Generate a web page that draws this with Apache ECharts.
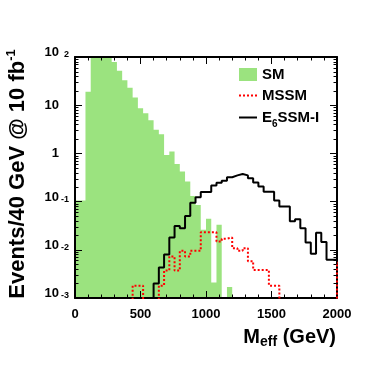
<!DOCTYPE html>
<html><head><meta charset="utf-8">
<script src="https://cdn.jsdelivr.net/npm/echarts@6/dist/echarts.min.js"></script>
<style>html,body{margin:0;padding:0;background:#fff}#c{width:374px;height:374px}</style>
</head><body><div id="c"></div>
<script>
// ---- data (Events / 40 GeV @ 10 fb^-1), bins given by lower edge (GeV) ----
const binWidth = 40;
const smEdges = [0,40,80,120,160,200,240,280,320,360,400,440,480,520,560,600,640,680,720,760,800,840,880,920,960,1000,1040,1080,1120,1160];
const smEvents = [0.105,0.105,19,130,170,160,120,79,52,33,23,14.5,8.6,6.8,4.9,3.1,2.5,0.93,1.09,0.6,0.42,0.26,0.13,0.085,0.026,0.044,0.0021,0.033,0,0.0017];

const mssmEdges = [400,440,480,520,560,600,640,680,720,760,800,840,880,920,960,1000,1040,1080,1120,1160,1200,1240,1280,1320,1360,1400,1440,1480,1520,1560,1600,1640,1680,1720,1760,1800,1840,1880,1920,1960,2000];
const mssmEvents = [0,0.0018,0.0018,0,0,0,0.0018,0.0037,0.0073,0.0037,0.0095,0.0073,0.0095,0.0095,0.023,0.023,0.023,0.0148,0.017,0.018,0.0108,0.0095,0.0108,0.0058,0.0038,0.0038,0.0038,0.0018,0.0018,0,0,0,0,0,0,0,0,0,0,0,0.0054];

const e6Edges = [560,600,640,680,720,760,800,840,880,920,960,1000,1040,1080,1120,1160,1200,1240,1280,1320,1360,1400,1440,1480,1520,1560,1600,1640,1680,1720,1760,1800,1840,1880,1920,1960];
const e6Events = [0,0.002,0.0043,0.008,0.018,0.031,0.028,0.05,0.095,0.123,0.158,0.158,0.215,0.245,0.27,0.32,0.35,0.375,0.35,0.305,0.25,0.205,0.16,0.16,0.105,0.079,0.079,0.039,0.043,0.028,0.0142,0.0083,0.0225,0.0145,0.0062,0.0062];

const seriesNames = ['SM','MSSM','E6SSM-I'];
const xTicks = [0,500,1000,1500,2000];
const yTickExps = [-3,-2,-1,0,1,2];
const yTickBase = ['10','10','10','1','10','10'];
const yTickSup  = ['-3','-2','-1','','','2'];

// ---- helpers ----
const FONT = 'Liberation Sans';
const GREEN = '#9be37f';
const FLOOR = 1e-6; // empty bins are drawn below the axis range
function stepData(edges, vals) {
  const d = edges.map((e, i) => [e, vals[i] > 0 ? vals[i] : FLOOR]);
  d.push([edges[edges.length - 1] + binWidth, d[d.length - 1][1]]);
  return d;
}
const yMinorTicks = [];
for (let k = yTickExps[0]; k < yTickExps[yTickExps.length - 1]; k++)
  for (let m = 2; m <= 9; m++) yMinorTicks.push(m * Math.pow(10, k));

const chart = echarts.init(document.getElementById('c'), null, {renderer: 'canvas'});

const axisLineStyle = {color: '#000', width: 2};
const xCommon = {
  type: 'value', min: xTicks[0], max: xTicks[xTicks.length - 1], interval: 500, z: 10,
  axisLine: {show: true, onZero: false, lineStyle: axisLineStyle},
  axisTick: {show: true, inside: true, length: 7, lineStyle: {color: '#000', width: 1}},
  minorTick: {show: true, splitNumber: 5, length: 3.5, lineStyle: {color: '#000', width: 1}},
  splitLine: {show: false}, minorSplitLine: {show: false}
};
const yCommon = {
  type: 'log', logBase: 10, min: 0.001, max: 100, z: 10,
  axisLine: {show: true, onZero: false, lineStyle: axisLineStyle},
  axisTick: {show: true, inside: true, length: 7, lineStyle: {color: '#000', width: 1}},
  minorTick: {show: false},
  splitLine: {show: false}
};

const option = {
  animation: false,
  backgroundColor: '#fff',
  grid: {left: 75, right: 37, top: 57, bottom: 76, show: false},
  xAxis: [
    Object.assign({}, xCommon, {position: 'bottom',
      axisLabel: {show: true, margin: 10, color: '#000', fontFamily: FONT, fontSize: 13, fontWeight: 'bold',
        formatter: function (v) { return String(v); }}}),
    Object.assign({}, xCommon, {position: 'top', axisLabel: {show: false}})
  ],
  yAxis: [
    Object.assign({}, yCommon, {position: 'left',
      axisLabel: {show: true, margin: 6, color: '#000',
        formatter: function (v) {
          const k = Math.round(Math.log10(v));
          const i = yTickExps.indexOf(k);
          if (i < 0) return '';
          return yTickSup[i] ? '{b|' + yTickBase[i] + '}{e|' + yTickSup[i] + '}'
                             : '{c|' + yTickBase[i] + '}{z| }';
        },
        rich: {
          b: {fontFamily: FONT, fontSize: 13, fontWeight: 'bold', color: '#000', lineHeight: 14, padding: [0,0,5,0], verticalAlign: 'bottom'},
          e: {fontFamily: FONT, fontSize: 9, fontWeight: 'bold', color: '#000', lineHeight: 9, padding: [0,0,19,0], verticalAlign: 'top', width: 10, align: 'right'},
          c: {fontFamily: FONT, fontSize: 13, fontWeight: 'bold', color: '#000', lineHeight: 14, verticalAlign: 'middle'},
          z: {fontFamily: FONT, fontSize: 9, width: 10, lineHeight: 14, verticalAlign: 'middle'}
        }}}),
    Object.assign({}, yCommon, {position: 'right', axisLabel: {show: false}})
  ],
  legend: {
    data: [
      {name: 'SM', icon: 'rect'},
      {name: 'MSSM', itemStyle: {opacity: 0}},
      {name: 'E6SSM-I', itemStyle: {opacity: 0}}
    ],
    orient: 'vertical', left: 238, top: 64, padding: 0, itemGap: 0,
    itemWidth: 18, itemHeight: 13, selectedMode: false,
    formatter: function (name) {
      return name === 'E6SSM-I' ? '{n|E}{s|6}{n|SSM-I}' : name;
    },
    textStyle: {fontFamily: FONT, fontSize: 15, fontWeight: 'bold', color: '#000', lineHeight: 21,
      rich: {
        n: {fontFamily: FONT, fontSize: 15, fontWeight: 'bold', color: '#000', lineHeight: 21, verticalAlign: 'middle'},
        s: {fontFamily: FONT, fontSize: 10, fontWeight: 'bold', color: '#000', lineHeight: 10, padding: [13,0,0,0], verticalAlign: 'middle'}
      }}
  },
  graphic: [
    {type: 'text', x: 16.5, y: 174, rotation: Math.PI / 2, silent: true,
     style: {text: '{a|Events/40 GeV @ 10 fb}{s|-1}', align: 'center', verticalAlign: 'middle', fill: '#000',
       rich: {
         a: {fontFamily: FONT, fontSize: 22, fontWeight: 'bold', fill: '#000', lineHeight: 24, verticalAlign: 'bottom'},
         s: {fontFamily: FONT, fontSize: 13, fontWeight: 'bold', fill: '#000', lineHeight: 13, padding: [0,0,13,0], verticalAlign: 'top'}
       }}},
    {type: 'text', x: 336, y: 337, silent: true,
     style: {text: '{m|M}{s|eff}{m| (GeV)}', align: 'right', verticalAlign: 'middle', fill: '#000',
       rich: {
         m: {fontFamily: FONT, fontSize: 20, fontWeight: 'bold', fill: '#000', lineHeight: 20, verticalAlign: 'top'},
         s: {fontFamily: FONT, fontSize: 14, fontWeight: 'bold', fill: '#000', lineHeight: 14, padding: [8,0,0,0], verticalAlign: 'top'}
       }}}
  ],
  series: [
    {name: seriesNames[0], type: 'line', step: 'end', data: stepData(smEdges, smEvents),
     symbol: 'none', z: 2, clip: true,
     itemStyle: {color: GREEN}, lineStyle: {width: 0, opacity: 0},
     areaStyle: {color: GREEN, opacity: 1, origin: 'start'}},
    {name: seriesNames[1], type: 'line', step: 'end', data: stepData(mssmEdges, mssmEvents),
     symbol: 'none', z: 12, clip: true,
     itemStyle: {color: '#ff0000'}, lineStyle: {color: '#ff0000', width: 2, type: [2, 2]}},
    {name: seriesNames[2], type: 'line', step: 'end', data: stepData(e6Edges, e6Events),
     symbol: 'none', z: 4, clip: true,
     itemStyle: {color: '#000'}, lineStyle: {color: '#000', width: 2}},
    {name: 'ticks', type: 'custom', silent: true, clip: false, z: 11,
     data: yMinorTicks.map(v => [xTicks[0], v]),
     encode: {x: 0, y: 1},
     renderItem: function (params, api) {
       const p = api.coord([api.value(0), api.value(1)]);
       const cs = params.coordSys;
       const y = Math.round(p[1]) + 0.5;
       return {type: 'group', children: [
         {type: 'line', shape: {x1: cs.x, y1: y, x2: cs.x + 3.5, y2: y}, style: {stroke: '#000', lineWidth: 1}},
         {type: 'line', shape: {x1: cs.x + cs.width - 3.5, y1: y, x2: cs.x + cs.width, y2: y}, style: {stroke: '#000', lineWidth: 1}}
       ]};
     }}
  ]
};
chart.setOption(option);
</script>
</body></html>
